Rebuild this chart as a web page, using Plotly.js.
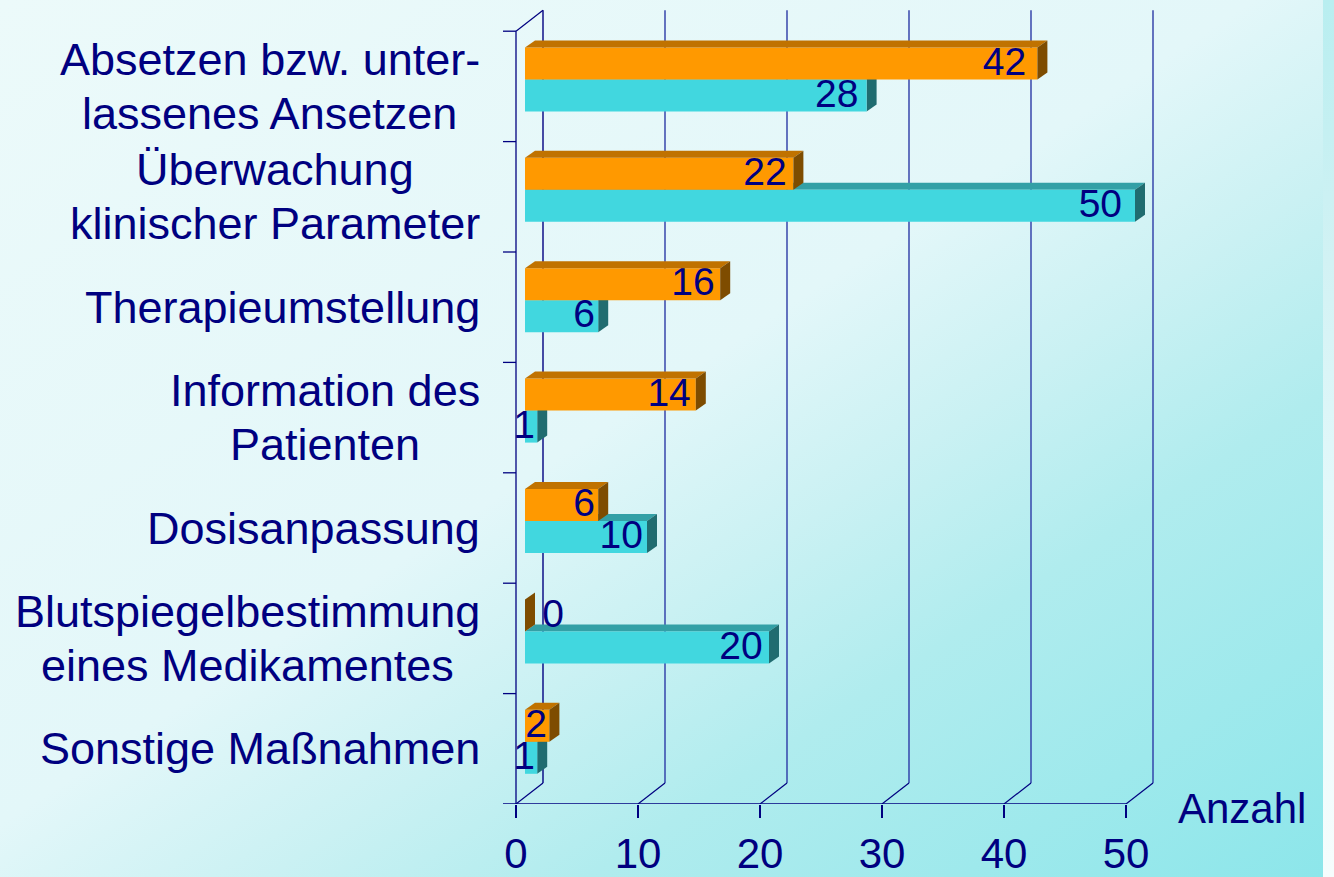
<!DOCTYPE html>
<html>
<head>
<meta charset="utf-8">
<script src="https://cdn.plot.ly/plotly-3.0.1.min.js"></script>
<style>
  html, body { margin: 0; padding: 0; }
  #wrap { position: relative; width: 1334px; height: 877px; overflow: hidden;
    background: linear-gradient(to bottom right, #ECFAFA 0%, #E3F7F9 47%, #CAF1F3 60%, #B0ECEE 72%, #8CE6EA 100%); }
  #chart { position: absolute; left: 0; top: 0; width: 1334px; height: 877px; }
  #strip { position: absolute; left: 1323px; top: 0; width: 11px; height: 877px;
    background: linear-gradient(to bottom, #B8EEF0 0%, #D2F2F4 30%, #E2F8FA 55%, #F6FDFD 100%); }
</style>
</head>
<body>
<div id="wrap"><div id="chart"></div><div id="strip"></div></div>
<script>
// ---- data ----
const categories = [
  'Absetzen bzw. unter-<br>lassenes Ansetzen',
  'Überwachung<br>klinischer Parameter',
  'Therapieumstellung',
  'Information des<br>Patienten',
  'Dosisanpassung',
  'Blutspiegelbestimmung<br>eines Medikamentes',
  'Sonstige Maßnahmen'
];
const seriesOrange = [42, 22, 16, 14, 6, 0, 2];
const seriesCyan   = [28, 50, 6, 1, 10, 20, 1];
const xTickVals    = [0, 10, 20, 30, 40, 50];
const xTitle       = 'Anzahl';

// ---- geometry (pixels -> data units) ----
const W = 1334, H = 877;
const L = 500, R = 1170, T = 5, B = 804;
const X0 = 516;            // pixel of value 0 on front plane
const PX = 12.2;           // pixels per value unit
const PY = 110.4;          // pixels per category band
const nCat = categories.length;
const xMax = xTickVals[xTickVals.length - 1];
const DXF = 27 / PX, DYF = 21 / PY;   // full depth of the box
const DXB = 9 / PX,  DYB = 7 / PY;    // bar plane offset
const BDX = 10 / PX, BDY = 7 / PY;    // bar depth
const BW = 32 / PY;                   // bar thickness
const HALF = 16 / PY;

const NAVY = '#000080';
const FONT = 'Liberation Sans, Arial, sans-serif';
const LABEL_SIZE = 45, LINE_GAP = 54, LABEL_RIGHT = 480;
const C = {
  oFront: '#FF9900', oTop: '#C07200', oSide: '#7E4C00',
  cFront: '#41D7DF', cTop: '#33A0A6', cSide: '#206C70',
  grid: '#2C3AA6'
};

const yCenter = categories.map((_, i) => nCat - 0.5 - i);
const yOrange = yCenter.map(y => y + DYB + HALF);
const yCyan   = yCenter.map(y => y + DYB - HALF);

function poly(pts, color, layer) {
  const d = pts.map((p, k) => (k ? 'L' : 'M') + p[0] + ',' + p[1]).join(' ') + ' Z';
  return { type: 'path', xref: 'x', yref: 'y', path: d, fillcolor: color,
           line: { width: 0 }, layer: layer };
}
function line(x0, y0, x1, y1, color, w) {
  return { type: 'line', xref: 'x', yref: 'y', x0: x0, y0: y0, x1: x1, y1: y1,
           line: { color: color, width: w }, layer: 'below' };
}

const shapes = [];
// back-plane grid lines and floor diagonals
xTickVals.forEach(v => {
  shapes.push(line(v + DXF, DYF, v + DXF, nCat + DYF, v === 0 ? NAVY : C.grid, 1.4));
  shapes.push(line(v, 0, v + DXF, DYF, NAVY, 1.2));
});
// front left axis, top diagonal, bottom axis, left ticks
shapes.push(line(0, 0, 0, nCat, NAVY, 1.3));
shapes.push(line(0, nCat, DXF, nCat + DYF, NAVY, 1.2));
shapes.push(line(-13 / PX, 0, xMax, 0, NAVY, 1.3));
for (let k = 1; k <= nCat; k++) shapes.push(line(-13 / PX, k, 0, k, NAVY, 1.3));

// 3D faces
function topFace(v, yTopEdge, color, layer) {
  const x0 = DXB, x1 = DXB + v;
  return poly([[x0, yTopEdge], [x1, yTopEdge], [x1 + BDX, yTopEdge + BDY], [x0 + BDX, yTopEdge + BDY]], color, layer);
}
function sideFace(v, yc, color, layer) {
  const x1 = DXB + v;
  return poly([[x1, yc - HALF], [x1, yc + HALF], [x1 + BDX, yc + HALF + BDY], [x1 + BDX, yc - HALF + BDY]], color, layer);
}
seriesCyan.forEach((v, i) => {
  shapes.push(topFace(v, yCyan[i] + HALF, C.cTop, 'below'));
  shapes.push(sideFace(v, yCyan[i], C.cSide, 'below'));
});
seriesOrange.forEach((v, i) => {
  if (v > 0) shapes.push(topFace(v, yOrange[i] + HALF, C.oTop, 'above'));
  shapes.push(sideFace(v, yOrange[i], C.oSide, 'above'));
});

// value labels
function labelX(v) { return v === 0 ? DXB + BDX + 0.6 : DXB + v - 0.16 - 0.018 * v; }
function labelPos(v) { return v === 0 ? 'middle right' : 'middle left'; }
const allVals = seriesOrange.concat(seriesCyan);
const labelTrace = {
  type: 'scatter', mode: 'text',
  x: allVals.map(labelX),
  y: yOrange.concat(yCyan).map(y => y - 1.5 / PY),
  text: allVals.map(String),
  textposition: allVals.map(labelPos),
  textfont: { family: FONT, size: 39, color: NAVY },
  cliponaxis: false, hoverinfo: 'skip', showlegend: false
};

const traces = [
  { type: 'bar', orientation: 'h', x: seriesCyan, y: yCyan, base: DXB, width: BW,
    marker: { color: C.cFront, line: { width: 0 } }, hoverinfo: 'skip', showlegend: false },
  { type: 'bar', orientation: 'h', x: seriesOrange, y: yOrange, base: DXB, width: BW,
    marker: { color: C.oFront, line: { width: 0 } }, hoverinfo: 'skip', showlegend: false },
  labelTrace
];

// category labels: one annotation per line, lines centred on the widest line
const pxToPaperX = p => (p - L) / (R - L);
const pxToPaperY = p => (B - p) / (B - T);
const ctx = document.createElement('canvas').getContext('2d');
ctx.font = LABEL_SIZE + 'px "Liberation Sans", Arial, sans-serif';
const annotations = [];
categories.forEach((c, i) => {
  const lines = c.split('<br>');
  const maxW = Math.max(...lines.map(s => ctx.measureText(s).width));
  const cx = LABEL_RIGHT - maxW / 2;
  const cyPx = B - yCenter[i] * PY;
  lines.forEach((s, k) => {
    annotations.push({
      xref: 'paper', yref: 'paper', x: pxToPaperX(cx),
      y: pxToPaperY(cyPx + (k - (lines.length - 1) / 2) * LINE_GAP), text: s,
      xanchor: 'center', yanchor: 'middle', showarrow: false,
      font: { family: FONT, size: LABEL_SIZE, color: NAVY }
    });
  });
});
annotations.push({
  xref: 'paper', yref: 'paper', x: pxToPaperX(1176), y: pxToPaperY(808), text: xTitle,
  xanchor: 'left', yanchor: 'middle', showarrow: false,
  font: { family: FONT, size: 42, color: NAVY }
});

const layout = {
  width: W, height: H,
  margin: { l: L, r: W - R, t: T, b: H - B, pad: 0 },
  paper_bgcolor: 'rgba(0,0,0,0)', plot_bgcolor: 'rgba(0,0,0,0)',
  barmode: 'overlay', showlegend: false,
  xaxis: {
    range: [(L - X0) / PX, (R - X0) / PX], tickvals: xTickVals,
    ticks: 'outside', ticklen: 13, tickwidth: 1.3, tickcolor: NAVY,
    tickfont: { family: FONT, size: 42, color: NAVY },
    showgrid: false, zeroline: false, showline: false, fixedrange: true, automargin: false
  },
  yaxis: {
    range: [0, (B - T) / PY], showticklabels: false, ticks: '',
    showgrid: false, zeroline: false, showline: false, fixedrange: true, automargin: false
  },
  shapes: shapes,
  annotations: annotations
};

Plotly.newPlot('chart', traces, layout, { displayModeBar: false, staticPlot: true });
</script>
</body>
</html>
